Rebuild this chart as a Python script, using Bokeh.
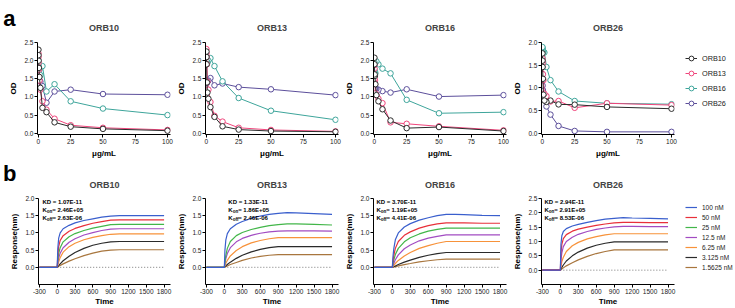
from bokeh.plotting import figure
from bokeh.layouts import row, column
from bokeh.models import Range1d, FixedTicker, PrintfTickFormatter, Legend, LegendItem, Label
from bokeh.embed import file_html
from bokeh.resources import INLINE

FONT = "Liberation Sans"

# ---------------- panel a : OD vs concentration ----------------
PANELS = ["ORB10", "ORB13", "ORB16", "ORB26"]
SERIES = ["ORB10", "ORB13", "ORB16", "ORB26"]
SERIES_COLORS = ["#2b2b2b", "#f0457c", "#3ea59b", "#5c4f9b"]

CONC_UG = [100, 50, 25, 12.5, 6.25, 3.125, 1.5625, 0.78125, 0.390625,
           0.1953125, 0.09765625, 0.048828125]

OD_ORB10 = {
    "ORB10": [0.07, 0.12, 0.18, 0.30, 0.58, 0.70, 1.25, 1.55, 1.80, 2.00, 2.15, 2.30],
    "ORB13": [0.09, 0.15, 0.22, 0.40, 0.65, 0.88, 1.20, 1.45, 1.75, 1.95, 2.10, 2.20],
    "ORB16": [0.50, 0.68, 0.88, 1.35, 1.15, 1.85, 1.60, 1.75, 1.80, 1.85, 1.90, 2.00],
    "ORB26": [1.06, 1.08, 1.20, 1.15, 0.84, 1.30, 1.42, 1.45, 1.50, 1.60, 1.75, 1.90],
}
OD_ORB13 = {
    "ORB10": [0.04, 0.06, 0.10, 0.19, 0.45, 0.72, 0.95, 1.12, 1.40, 1.90, 2.10, 2.25],
    "ORB13": [0.05, 0.09, 0.15, 0.32, 0.48, 0.86, 1.20, 1.42, 1.90, 2.10, 2.20, 2.32],
    "ORB16": [0.37, 0.62, 0.97, 1.43, 1.85, 2.07, 2.00, 1.95, 1.92, 1.90, 1.95, 2.00],
    "ORB26": [1.05, 1.21, 1.27, 1.37, 1.32, 1.52, 1.45, 1.42, 1.40, 1.38, 1.40, 1.45],
}
OD_ORB16 = {
    "ORB10": [0.06, 0.17, 0.14, 0.35, 0.66, 0.88, 1.05, 1.35, 1.58, 1.62, 1.90, 2.08],
    "ORB13": [0.08, 0.19, 0.26, 0.30, 0.83, 0.95, 1.05, 1.10, 1.45, 1.50, 1.78, 1.88],
    "ORB16": [0.58, 0.55, 0.92, 1.65, 1.78, 1.90, 1.98, 1.65, 1.70, 1.75, 1.90, 1.95],
    "ORB26": [1.05, 1.01, 1.21, 1.12, 1.16, 1.20, 1.22, 1.22, 1.23, 1.24, 1.25, 1.22],
}
OD_ORB26 = {
    "ORB10": [0.54, 0.58, 0.63, 0.635, 0.72, 0.69, 0.72, 0.85, 1.20, 1.46, 1.60, 1.76],
    "ORB13": [0.62, 0.66, 0.56, 0.71, 0.70, 0.82, 0.87, 1.17, 1.30, 1.54, 1.60, 1.65],
    "ORB16": [0.64, 0.66, 0.71, 0.92, 1.17, 1.46, 1.78, 1.80, 1.82, 1.85, 1.88, 1.90],
    "ORB26": [0.03, 0.03, 0.05, 0.16, 0.41, 0.59, 0.80, 0.88, 0.95, 1.05, 1.20, 1.30],
}
OD_DATA = [OD_ORB10, OD_ORB13, OD_ORB16, OD_ORB26]
OD_YMAX = [2.5, 2.5, 2.5, 2.0]

# ---------------- panel b : BLI sensorgrams ----------------
TIME_S = [-300, 0, 10, 25, 50, 100, 200, 300, 450, 600, 750, 900, 1050, 1200, 1500, 1800]
CONC_LABELS = ["100 nM", "50 nM", "25 nM", "12.5 nM", "6.25 nM", "3.125 nM", "1.5625 nM"]
CONC_COLORS = ["#3a5fcd", "#e8303a", "#42b649", "#a24cc2", "#f7923a", "#2a2a2a", "#a8763e"]

BLI_ORB10 = {
    "100 nM":    [0, 0, 0.55, 0.85, 1.00, 1.12, 1.22, 1.29, 1.36, 1.41, 1.46, 1.49, 1.50, 1.50, 1.50, 1.50],
    "50 nM":     [0, 0, 0.35, 0.60, 0.78, 0.92, 1.05, 1.13, 1.21, 1.28, 1.33, 1.37, 1.38, 1.38, 1.38, 1.38],
    "25 nM":     [0, 0, 0.20, 0.40, 0.57, 0.74, 0.89, 0.98, 1.07, 1.14, 1.19, 1.24, 1.25, 1.25, 1.25, 1.25],
    "12.5 nM":   [0, 0, 0.12, 0.27, 0.41, 0.57, 0.73, 0.83, 0.94, 1.01, 1.07, 1.11, 1.12, 1.12, 1.12, 1.12],
    "6.25 nM":   [0, 0, 0.06, 0.16, 0.28, 0.44, 0.60, 0.70, 0.80, 0.87, 0.92, 0.96, 0.97, 0.97, 0.97, 0.97],
    "3.125 nM":  [0, 0, 0.02, 0.05, 0.10, 0.19, 0.32, 0.43, 0.55, 0.64, 0.70, 0.74, 0.75, 0.75, 0.75, 0.75],
    "1.5625 nM": [0, 0, 0.01, 0.03, 0.05, 0.10, 0.18, 0.25, 0.34, 0.41, 0.47, 0.50, 0.51, 0.51, 0.51, 0.51],
}
BLI_ORB13 = {
    "100 nM":    [0, 0, 0.50, 0.80, 0.98, 1.12, 1.25, 1.33, 1.42, 1.49, 1.54, 1.57, 1.59, 1.58, 1.56, 1.54],
    "25 nM":     [0, 0, 0.15, 0.35, 0.55, 0.75, 0.92, 1.01, 1.10, 1.16, 1.21, 1.24, 1.26, 1.26, 1.25, 1.23],
    "12.5 nM":   [0, 0, 0.10, 0.25, 0.40, 0.57, 0.74, 0.84, 0.93, 0.99, 1.03, 1.05, 1.06, 1.06, 1.06, 1.05],
    "6.25 nM":   [0, 0, 0.05, 0.12, 0.20, 0.33, 0.49, 0.60, 0.71, 0.78, 0.83, 0.86, 0.86, 0.86, 0.86, 0.86],
    "3.125 nM":  [0, 0, 0.02, 0.04, 0.08, 0.15, 0.26, 0.35, 0.45, 0.52, 0.57, 0.60, 0.60, 0.60, 0.60, 0.60],
    "1.5625 nM": [0, 0, 0.01, 0.02, 0.04, 0.08, 0.14, 0.20, 0.27, 0.32, 0.35, 0.37, 0.37, 0.37, 0.37, 0.37],
}
BLI_ORB16 = {
    "100 nM":    [0, 0, 0.30, 0.55, 0.80, 1.00, 1.17, 1.27, 1.37, 1.44, 1.50, 1.54, 1.54, 1.53, 1.51, 1.50],
    "50 nM":     [0, 0, 0.18, 0.35, 0.55, 0.75, 0.93, 1.03, 1.14, 1.21, 1.26, 1.29, 1.29, 1.29, 1.28, 1.28],
    "25 nM":     [0, 0, 0.10, 0.22, 0.37, 0.55, 0.74, 0.86, 0.97, 1.05, 1.10, 1.14, 1.14, 1.14, 1.14, 1.14],
    "12.5 nM":   [0, 0, 0.05, 0.12, 0.22, 0.36, 0.54, 0.65, 0.77, 0.85, 0.90, 0.94, 0.94, 0.94, 0.94, 0.94],
    "6.25 nM":   [0, 0, 0.02, 0.06, 0.11, 0.20, 0.33, 0.43, 0.55, 0.63, 0.70, 0.75, 0.75, 0.75, 0.75, 0.75],
    "3.125 nM":  [0, 0, 0.01, 0.02, 0.04, 0.08, 0.15, 0.21, 0.29, 0.35, 0.40, 0.43, 0.43, 0.43, 0.43, 0.43],
    "1.5625 nM": [0, 0, 0.005, 0.01, 0.02, 0.04, 0.08, 0.11, 0.16, 0.19, 0.22, 0.24, 0.24, 0.24, 0.24, 0.24],
}
BLI_ORB26 = {
    "100 nM":    [0, 0, 0.90, 1.20, 1.35, 1.45, 1.54, 1.60, 1.67, 1.73, 1.78, 1.81, 1.83, 1.82, 1.81, 1.79],
    "50 nM":     [0, 0, 0.60, 0.90, 1.10, 1.24, 1.36, 1.43, 1.50, 1.56, 1.61, 1.65, 1.67, 1.67, 1.66, 1.66],
    "12.5 nM":   [0, 0, 0.35, 0.60, 0.82, 1.00, 1.15, 1.25, 1.35, 1.42, 1.47, 1.51, 1.53, 1.53, 1.52, 1.52],
    "6.25 nM":   [0, 0, 0.12, 0.30, 0.45, 0.65, 0.85, 0.97, 1.09, 1.17, 1.23, 1.27, 1.27, 1.27, 1.27, 1.27],
    "3.125 nM":  [0, 0, 0.04, 0.10, 0.18, 0.32, 0.50, 0.63, 0.77, 0.87, 0.94, 0.99, 0.99, 0.99, 0.99, 0.99],
    "1.5625 nM": [0, 0, 0.02, 0.04, 0.08, 0.15, 0.26, 0.36, 0.48, 0.58, 0.65, 0.71, 0.71, 0.71, 0.71, 0.71],
}
BLI_DATA = [BLI_ORB10, BLI_ORB13, BLI_ORB16, BLI_ORB26]
BLI_YMAX = [2.0, 2.0, 2.0, 2.5]
KD_TEXT = ["1.07E-11", "1.33E-11", "3.70E-11", "2.94E-11"]
KON_TEXT = ["2.46E+05", "1.86E+05", "1.19E+05", "2.91E+05"]
KOFF_TEXT = ["2.63E-06", "2.46E-06", "4.41E-06", "8.53E-06"]
KIN_XPAD = [4, 23, 3, 3]   # px from the y axis

# ---------------- layout geometry ----------------
FRAME_W = 134
WIDTHS = [174, 168, 168, 168]
LEFTS = [36, 30, 30, 30]
RIGHT = 4
LEG_W = 57
A_H, A_HEAD, A_TOP, A_BOT = 160, 32, 10, 26
B_H, B_HEAD, B_TOP, B_BOT = 148, 30, 8, 21
A_XR = (-0.7, 102.3)
B_XR = (-315, 1908)


def clean(p):
    p.title = None
    p.background_fill_color = "white"
    p.border_fill_color = "white"
    p.outline_line_color = None
    p.xgrid.visible = False
    p.ygrid.visible = False
    return p


def base_fig(i, h, top, bot, xr, yr):
    p = figure(width=WIDTHS[i], height=h, x_range=Range1d(*xr), y_range=Range1d(*yr),
               output_backend="svg", toolbar_location=None,
               min_border_left=LEFTS[i], min_border_right=RIGHT,
               min_border_top=top, min_border_bottom=bot)
    clean(p)
    for ax in p.axis:
        ax.axis_line_color = "black"
        ax.axis_line_width = 1
        ax.major_tick_line_color = "black"
        ax.major_tick_out = 3
        ax.major_tick_in = 0
        ax.minor_tick_line_color = None
        ax.major_label_text_font = FONT
        ax.major_label_text_font_size = "6.5px"
        ax.major_label_text_color = "#222222"
        ax.major_label_standoff = 1
        ax.axis_label_text_font = FONT
        ax.axis_label_text_font_size = "8px"
        ax.axis_label_text_font_style = "bold"
        ax.axis_label_text_color = "black"
    p.yaxis.axis_label_standoff = 3
    return p


def header(i, h, title, title_y, letter=None, letter_y=None):
    p = figure(width=WIDTHS[i], height=h, x_range=Range1d(0, 1), y_range=Range1d(0, h),
               output_backend="svg", toolbar_location=None, x_axis_type=None,
               y_axis_type="linear" if letter else None,
               min_border_left=LEFTS[i], min_border_right=RIGHT,
               min_border_top=0, min_border_bottom=0)
    clean(p)
    p.add_layout(Label(x=0.5, y=title_y, text=title, text_align="center", text_baseline="middle",
                       text_font=FONT, text_font_size="9px", text_font_style="bold"))
    if letter:
        ax = p.yaxis[0]
        ax.ticker = FixedTicker(ticks=[letter_y])
        ax.major_label_overrides = {letter_y: letter}
        ax.axis_line_color = None
        ax.major_tick_line_color = None
        ax.minor_tick_line_color = None
        ax.major_tick_out = 0
        ax.major_tick_in = 0
        ax.major_label_standoff = 22
        ax.major_label_text_font = FONT
        ax.major_label_text_font_size = "22px"
        ax.major_label_text_font_style = "bold"
        ax.major_label_text_color = "black"
    return p


def legend_fig(h, xr):
    p = figure(width=LEG_W, height=h, x_range=Range1d(*xr), y_range=Range1d(0, 1),
               output_backend="svg", toolbar_location=None,
               x_axis_type=None, y_axis_type=None, min_border=0)
    return clean(p)


# ---------------- row a ----------------
cols_a = []
for i, name in enumerate(PANELS):
    ymax = OD_YMAX[i]
    ymin = -1.3 * ymax / 92.0
    p = base_fig(i, A_H - A_HEAD, A_TOP, A_BOT, A_XR, (ymin, ymax))
    p.xaxis.ticker = FixedTicker(ticks=[0, 25, 50, 75, 100])
    p.yaxis.ticker = FixedTicker(ticks=[k * 0.5 for k in range(int(ymax / 0.5) + 1)])
    p.yaxis.formatter = PrintfTickFormatter(format="%.1f")
    p.xaxis.axis_label = "\u03bcg/mL"
    p.yaxis.axis_label = "OD"
    p.xaxis.axis_label_standoff = 2
    data = OD_DATA[i]
    for s in reversed(range(len(SERIES))):
        ser = SERIES[s]
        col = SERIES_COLORS[s]
        p.line(CONC_UG, data[ser], line_color=col, line_width=1)
        p.scatter(CONC_UG, data[ser], marker="circle", size=5.5, line_color=col,
                  line_width=1, fill_color="white")
    head = header(i, A_HEAD, name, 5, "a" if i == 0 else None, 25)
    cols_a.append(column(head, p, spacing=0))

# legend panel for a (same series, legend only; data lie outside its view)
leg_a = legend_fig(A_H, (1000, 1001))
items_a = []
for s, ser in enumerate(SERIES):
    lr = leg_a.line(CONC_UG, OD_ORB10[ser], line_color=SERIES_COLORS[s], line_width=1)
    cr = leg_a.scatter(CONC_UG, OD_ORB10[ser], marker="circle", size=5.5,
                       line_color=SERIES_COLORS[s], line_width=1, fill_color="white")
    items_a.append(LegendItem(label=ser, renderers=[lr, cr]))
leg_a.add_layout(Legend(items=items_a, location=(7, 50), margin=0, padding=0, spacing=1,
                        glyph_width=12, glyph_height=14, label_height=14, label_standoff=5,
                        label_text_font=FONT, label_text_font_size="7.3px",
                        label_text_color="#222222",
                        border_line_color=None, background_fill_alpha=0))

# ---------------- row b ----------------
cols_b = []
for i, name in enumerate(PANELS):
    ymax = BLI_YMAX[i]
    ymin = -0.5
    h = B_H - B_HEAD
    p = base_fig(i, h, B_TOP, B_BOT, B_XR, (ymin, ymax))
    p.xaxis.ticker = FixedTicker(ticks=[-300, 0, 300, 600, 900, 1200, 1500, 1800])
    p.xaxis.formatter = PrintfTickFormatter(format="%d")
    p.yaxis.ticker = FixedTicker(ticks=[k * 0.5 for k in range(int(ymax / 0.5) + 1)])
    p.yaxis.formatter = PrintfTickFormatter(format="%.1f")
    p.xaxis.axis_label = "Time"
    p.yaxis.axis_label = "Response(nm)"
    p.xaxis.axis_label_standoff = 0
    data = BLI_DATA[i]
    # dotted zero reference over association + dissociation
    p.line([TIME_S[1], TIME_S[-1]], [0, 0], line_color="#777777", line_width=1, line_dash="1 2")
    for c in reversed(range(len(CONC_LABELS))):
        lab = CONC_LABELS[c]
        if lab in data:
            p.line(TIME_S, data[lab], line_color=CONC_COLORS[c], line_width=1.2)
    # kinetics text
    frame_h = h - B_TOP - B_BOT
    pxu_y = frame_h / (ymax - ymin)
    pxu_x = FRAME_W / (B_XR[1] - B_XR[0])
    x0 = B_XR[0] + KIN_XPAD[i] / pxu_x
    ys = [ymax - off / pxu_y for off in (3.4, 11.7, 20.0)]
    kw = dict(text_font=FONT, text_font_style="bold", text_color="black", text_baseline="middle")
    p.add_layout(Label(x=x0, y=ys[0], text="KD = " + KD_TEXT[i], text_font_size="6px", **kw))
    p.add_layout(Label(x=x0, y=ys[1], text="K", text_font_size="6px", **kw))
    p.add_layout(Label(x=x0, y=ys[1], x_offset=4.3, y_offset=-1.5, text="on", text_font_size="4.5px", **kw))
    p.add_layout(Label(x=x0, y=ys[1], x_offset=9.8, text=" = " + KON_TEXT[i], text_font_size="6px", **kw))
    p.add_layout(Label(x=x0, y=ys[2], text="K", text_font_size="6px", **kw))
    p.add_layout(Label(x=x0, y=ys[2], x_offset=4.3, y_offset=-1.5, text="off", text_font_size="4.5px", **kw))
    p.add_layout(Label(x=x0, y=ys[2], x_offset=10.0, text=" = " + KOFF_TEXT[i], text_font_size="6px", **kw))
    head = header(i, B_HEAD, name, 5.7, "b" if i == 0 else None, 18)
    cols_b.append(column(head, p, spacing=0))

leg_b = legend_fig(B_H, (10000, 10001))
items_b = []
for c, lab in enumerate(CONC_LABELS):
    r = leg_b.line(TIME_S, BLI_ORB10[lab], line_color=CONC_COLORS[c], line_width=1.2)
    items_b.append(LegendItem(label=lab, renderers=[r]))
leg_b.add_layout(Legend(items=items_b, location=(7, 36), margin=0, padding=0, spacing=0,
                        glyph_width=12, glyph_height=10, label_height=10, label_standoff=5,
                        label_text_font=FONT, label_text_font_size="6.5px",
                        label_text_color="#222222",
                        border_line_color=None, background_fill_alpha=0))

row_a = row(*cols_a, leg_a, spacing=0)
row_b = row(*cols_b, leg_b, spacing=0)
layout = column(row_a, row_b, spacing=0)
open("out.html", "w").write(file_html(layout, INLINE))
